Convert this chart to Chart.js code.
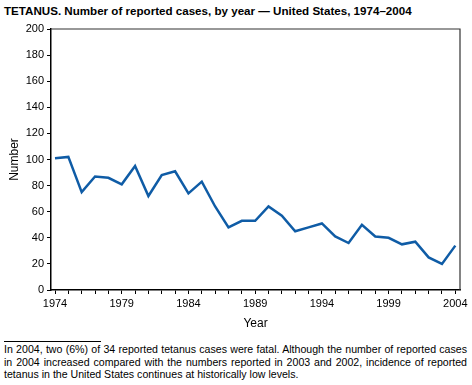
<!DOCTYPE html>
<html>
<head>
<meta charset="utf-8">
<script src="https://cdn.jsdelivr.net/npm/chart.js@4.4.0/dist/chart.umd.min.js"></script>
<style>
  body { margin: 0; background: #fff; font-family: "Liberation Sans", Arial, sans-serif; }
  #wrap { position: relative; width: 472px; height: 385px; }
  #titulo { position: absolute; left: 4px; top: 4px; font-size: 11.6px; font-weight: bold; color: #000; white-space: nowrap; }
  #grafico { position: absolute; left: 0; top: 0; width: 472px; height: 335px; }
  #regla { position: absolute; left: 4px; top: 341px; width: 97px; border-top: 1px solid #000; }
  #nota { position: absolute; left: 4px; top: 343px; width: 463px; font-size: 10.6px; line-height: 12.5px; text-align: justify; color: #000; }
</style>
</head>
<body>
<div id="wrap">
  <div id="titulo">TETANUS. Number of reported cases, by year — United States, 1974–2004</div>
  <div id="grafico"><canvas id="myChart" width="472" height="335"></canvas></div>
  <div id="regla"></div>
  <div id="nota">In 2004, two (6%) of 34 reported tetanus cases were fatal. Although the number of reported cases in 2004 increased compared with the numbers reported in 2003 and 2002, incidence of reported tetanus in the United States continues at historically low levels.</div>
</div>
<script>
// datos
const years = [1974, 1975, 1976, 1977, 1978, 1979, 1980, 1981, 1982, 1983, 1984, 1985, 1986, 1987, 1988,
  1989, 1990, 1991, 1992, 1993, 1994, 1995, 1996, 1997, 1998, 1999, 2000, 2001, 2002, 2003, 2004];
const cases = [101, 102, 75, 87, 86, 81, 95, 72, 88, 91, 74, 83, 64, 48, 53,
  53, 64, 57, 45, 48, 51, 41, 36, 50, 41, 40, 35, 37, 25, 20, 34];
const labeledYears = [1974, 1979, 1984, 1989, 1994, 1999, 2004];
const yTicks = [0, 20, 40, 60, 80, 100, 120, 140, 160, 180, 200];

const fuente = { family: '"Liberation Sans", Arial, sans-serif', size: 11 };

// marco superior y derecho del area
const marco = {
  id: 'marco',
  afterDraw(chart) {
    const a = chart.chartArea;
    const ctx = chart.ctx;
    ctx.save();
    ctx.strokeStyle = '#333';
    ctx.lineWidth = 1.2;
    ctx.beginPath();
    ctx.moveTo(a.left, a.top);
    ctx.lineTo(a.right, a.top);
    ctx.lineTo(a.right, a.bottom);
    ctx.stroke();
    ctx.restore();
  }
};

const puntos = years.map((y, i) => ({ x: y, y: cases[i] }));

new Chart(document.getElementById('myChart').getContext('2d'), {
  type: 'line',
  data: {
    datasets: [{
      data: puntos,
      borderColor: '#0f5ca6',
      borderWidth: 2.5,
      pointRadius: 0,
      tension: 0,
      fill: false
    }]
  },
  options: {
    responsive: false,
    animation: false,
    layout: { padding: { top: 29, right: 12, left: 0, bottom: 0 } },
    plugins: { legend: { display: false }, tooltip: { enabled: false }, title: { display: false } },
    scales: {
      x: {
        type: 'linear',
        min: 1973.7,
        max: 2004.35,
        afterBuildTicks: scale => { scale.ticks = years.map(v => ({ value: v })); },
        afterFit: scale => { scale.height = 45; },
        grid: { drawOnChartArea: false, tickLength: 4, color: '#000', tickWidth: 1 },
        border: { color: '#000', width: 1.5 },
        ticks: {
          color: '#000',
          font: fuente,
          padding: 3,
          maxRotation: 0,
          autoSkip: false,
          callback: v => labeledYears.includes(v) ? String(v) : ''
        },
        title: { display: true, text: 'Year', color: '#000', font: { family: fuente.family, size: 12 }, padding: { top: 4 } }
      },
      y: {
        min: 0,
        max: 200,
        afterBuildTicks: scale => { scale.ticks = yTicks.map(v => ({ value: v })); },
        afterFit: scale => { scale.width = 51; },
        grid: { drawOnChartArea: false, tickLength: 4, color: '#000', tickWidth: 1 },
        border: { color: '#000', width: 1.5 },
        ticks: { color: '#000', font: fuente, padding: 3 },
        title: { display: true, text: 'Number', color: '#000', font: { family: fuente.family, size: 12 }, padding: { top: 7, bottom: 0 } }
      }
    }
  },
  plugins: [marco]
});
</script>
</body>
</html>
